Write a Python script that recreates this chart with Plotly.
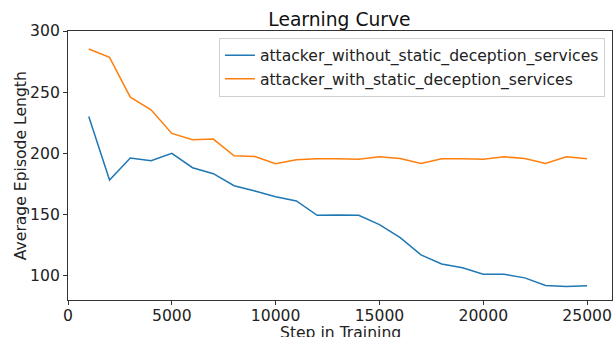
import plotly.graph_objects as go

steps = [1000, 2000, 3000, 4000, 5000, 6000, 7000, 8000, 9000, 10000, 11000, 12000, 13000,
         14000, 15000, 16000, 17000, 18000, 19000, 20000, 21000, 22000, 23000, 24000, 25000]
without_static = [230.1, 178.1, 196.1, 193.9, 199.9, 188.2, 183.3, 173.5, 169.1, 164.5, 161.0,
                  149.3, 149.5, 149.3, 141.6, 131.0, 116.9, 109.5, 106.3, 101.1, 101.1, 98.1,
                  91.8, 91.0, 91.6]
with_static = [285.3, 278.5, 245.9, 235.5, 216.2, 211.0, 211.6, 198.0, 197.4, 191.4, 194.7,
               195.5, 195.5, 195.2, 197.1, 195.8, 191.7, 195.5, 195.5, 195.2, 197.1, 195.8,
               191.7, 197.1, 195.5]
series_names = ["attacker_without_static_deception_services",
                "attacker_with_static_deception_services"]
x_ticks = [0, 5000, 10000, 15000, 20000, 25000]
y_ticks = [100, 150, 200, 250, 300]

font = "DejaVu Sans"
fs = 15.6
fig = go.Figure()
fig.add_trace(go.Scatter(x=steps, y=without_static, mode="lines", name=series_names[0],
                         line=dict(color="#1f77b4", width=1.5)))
fig.add_trace(go.Scatter(x=steps, y=with_static, mode="lines", name=series_names[1],
                         line=dict(color="#ff7f0e", width=1.5)))

axis_common = dict(showgrid=False, zeroline=False, showline=True, linecolor="#333333",
                   linewidth=1, mirror=True, ticks="outside", ticklen=4, tickwidth=1,
                   tickcolor="#333333", automargin=False,
                   tickfont=dict(family=font, size=fs, color="#222222"))

fig.update_layout(
    width=616, height=337,
    margin=dict(l=68, r=4, t=31, b=37),
    paper_bgcolor="white", plot_bgcolor="white",
    title=dict(text="Learning Curve", x=0.551, xanchor="center", y=0.943, yanchor="middle",
               font=dict(family=font, size=18.7, color="#111111")),
    xaxis=dict(range=[0, 26200], tickvals=x_ticks, ticktext=[str(v) for v in x_ticks],
               ticklabelstandoff=-3, **axis_common),
    yaxis=dict(range=[80, 300], tickvals=y_ticks, ticktext=[str(v) for v in y_ticks],
               **axis_common),
    legend=dict(x=0.987, y=0.975, xanchor="right", yanchor="top",
                bgcolor="rgba(255,255,255,0.85)", bordercolor="#d0d0d0", borderwidth=1,
                font=dict(family=font, size=fs, color="#222222"),
                itemwidth=30, tracegroupgap=0),
    showlegend=True,
)

# axis titles placed relative to the plotting area
fig.add_annotation(text="Step in Training", xref="paper", yref="paper", x=0.5, y=-0.123,
                   xanchor="center", yanchor="middle", showarrow=False,
                   font=dict(family=font, size=fs, color="#222222"))
fig.add_annotation(text="Average Episode Length", xref="paper", yref="paper", x=-0.087, y=0.5,
                   xanchor="center", yanchor="middle", textangle=-90, showarrow=False,
                   font=dict(family=font, size=fs, color="#222222"))

fig.write_html("out.html")
